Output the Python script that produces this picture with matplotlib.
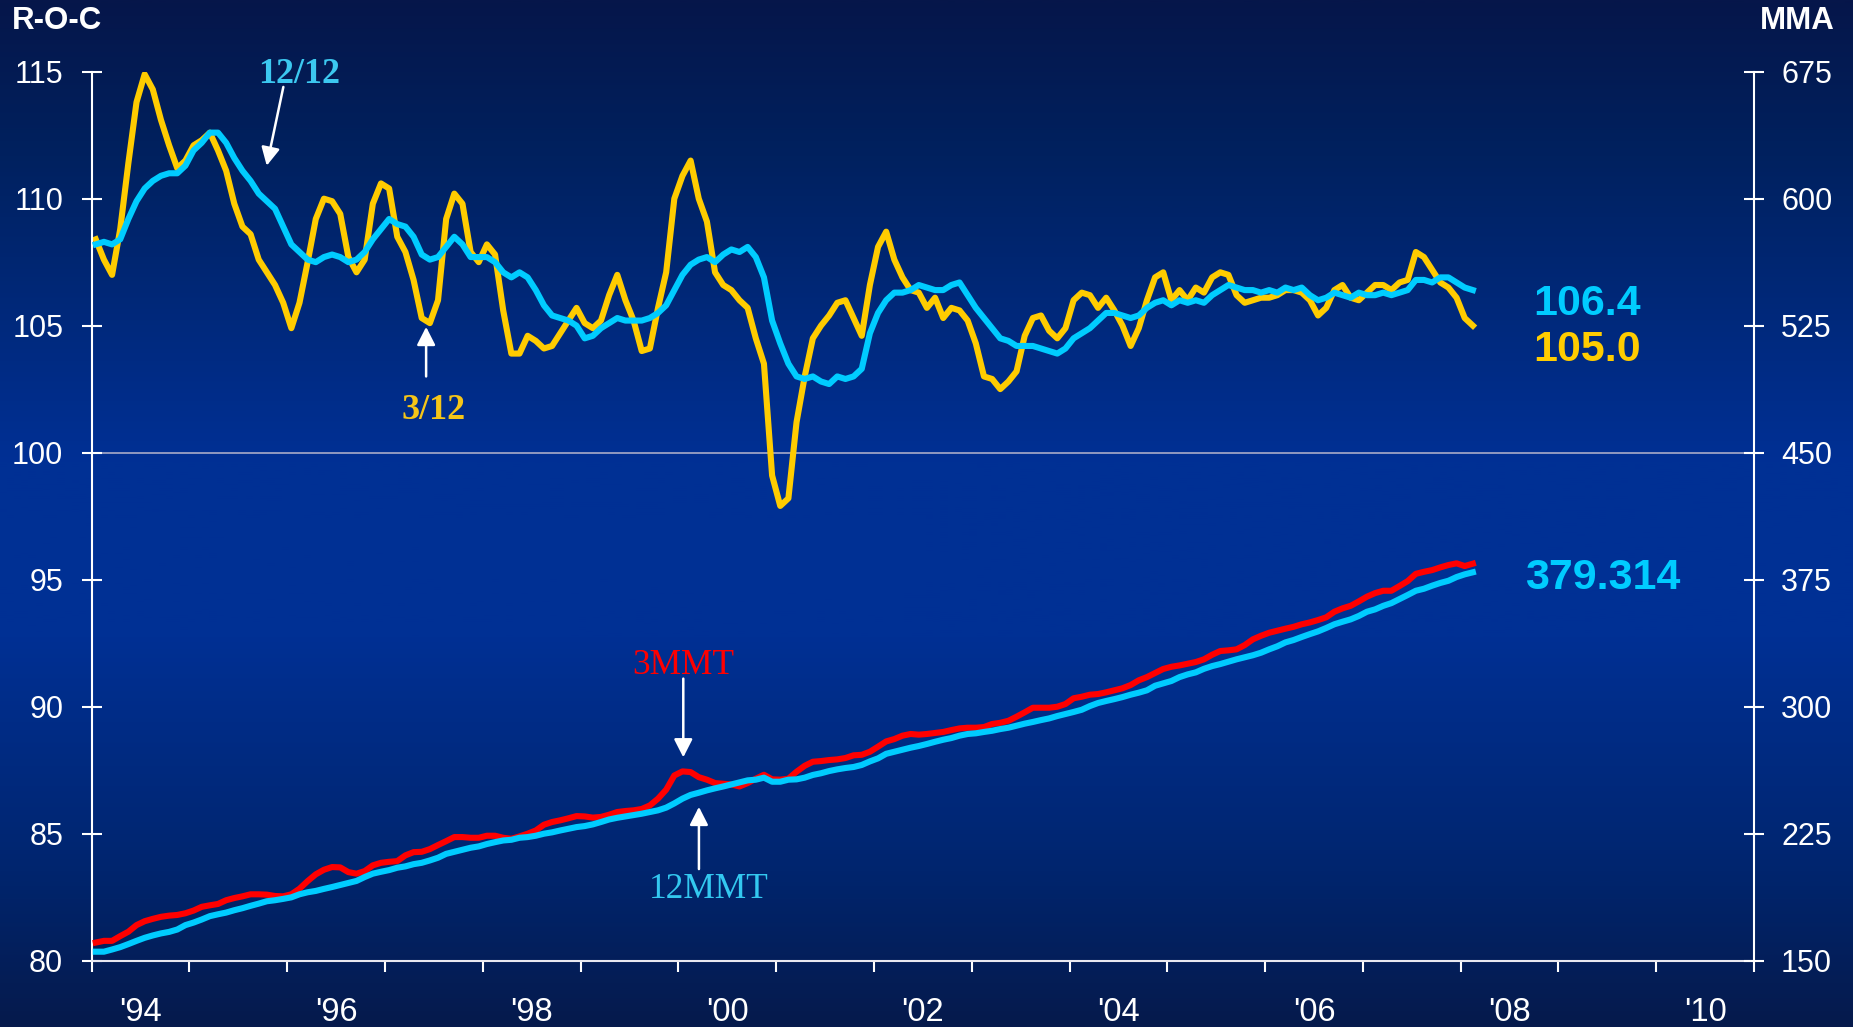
import numpy as np
import matplotlib.pyplot as plt
from matplotlib.colors import LinearSegmentedColormap

plt.rcParams['font.family'] = ['Liberation Sans', 'DejaVu Sans']

# Monthly data, Jan 1994 - Feb 2008
roc_3_12 = [
    108.4, 107.6, 107.0, 108.8, 111.4, 113.8, 114.9, 114.3, 113.1, 112.1,
    111.2, 111.5, 112.1, 112.3, 112.6, 111.9, 111.1, 109.8, 108.9, 108.6,
    107.6, 107.1, 106.6, 105.9, 104.9, 105.9, 107.5, 109.2, 110.0, 109.9,
    109.4, 107.7, 107.1, 107.6, 109.8, 110.6, 110.4, 108.5, 107.9, 106.8,
    105.3, 105.1, 106.0, 109.2, 110.2, 109.8, 107.9, 107.5, 108.2, 107.8,
    105.6, 103.9, 103.9, 104.6, 104.4, 104.1, 104.2, 104.7, 105.2, 105.7,
    105.1, 104.9, 105.2, 106.2, 107.0, 106.0, 105.2, 104.0, 104.1, 105.7,
    107.1, 110.0, 110.9, 111.5, 110.0, 109.1, 107.1, 106.6, 106.4, 106.0,
    105.7, 104.5, 103.5, 99.1, 97.9, 98.2, 101.2, 103.0, 104.5, 105.0,
    105.4, 105.9, 106.0, 105.3, 104.6, 106.6, 108.1, 108.7, 107.6, 106.9,
    106.4, 106.3, 105.7, 106.1, 105.3, 105.7, 105.6, 105.2, 104.3, 103.0,
    102.9, 102.5, 102.8, 103.2, 104.6, 105.3, 105.4, 104.8, 104.5, 104.9,
    106.0, 106.3, 106.2, 105.7, 106.1, 105.6, 105.0, 104.2, 104.9, 106.0,
    106.9, 107.1, 106.0, 106.4, 106.0, 106.5, 106.3, 106.9, 107.1, 107.0,
    106.2, 105.9, 106.0, 106.1, 106.1, 106.2, 106.4, 106.4, 106.3, 106.0,
    105.4, 105.7, 106.4, 106.6, 106.1, 106.0, 106.3, 106.6, 106.6, 106.4,
    106.7, 106.8, 107.9, 107.7, 107.2, 106.7, 106.5, 106.1, 105.3, 105.0,
]
roc_12_12 = [
    108.2, 108.3, 108.2, 108.4, 109.2, 109.9, 110.4, 110.7, 110.9, 111.0,
    111.0, 111.3, 111.9, 112.2, 112.6, 112.6, 112.2, 111.6, 111.1, 110.7,
    110.2, 109.9, 109.6, 108.9, 108.2, 107.9, 107.6, 107.5, 107.7, 107.8,
    107.7, 107.5, 107.6, 107.9, 108.4, 108.8, 109.2, 109.0, 108.9, 108.5,
    107.8, 107.6, 107.7, 108.1, 108.5, 108.2, 107.7, 107.7, 107.7, 107.5,
    107.1, 106.9, 107.1, 106.9, 106.4, 105.8, 105.4, 105.3, 105.2, 105.0,
    104.5, 104.6, 104.9, 105.1, 105.3, 105.2, 105.2, 105.2, 105.3, 105.5,
    105.8, 106.4, 107.0, 107.4, 107.6, 107.7, 107.5, 107.8, 108.0, 107.9,
    108.1, 107.7, 106.9, 105.2, 104.3, 103.5, 103.0, 102.9, 103.0, 102.8,
    102.7, 103.0, 102.9, 103.0, 103.3, 104.7, 105.5, 106.0, 106.3, 106.3,
    106.4, 106.6, 106.5, 106.4, 106.4, 106.6, 106.7, 106.2, 105.7, 105.3,
    104.9, 104.5, 104.4, 104.2, 104.2, 104.2, 104.1, 104.0, 103.9, 104.1,
    104.5, 104.7, 104.9, 105.2, 105.5, 105.5, 105.4, 105.3, 105.4, 105.7,
    105.9, 106.0, 105.8, 106.0, 105.9, 106.0, 105.9, 106.2, 106.4, 106.6,
    106.5, 106.4, 106.4, 106.3, 106.4, 106.3, 106.5, 106.4, 106.5, 106.2,
    106.0, 106.1, 106.3, 106.2, 106.1, 106.3, 106.2, 106.2, 106.3, 106.2,
    106.3, 106.4, 106.8, 106.8, 106.7, 106.9, 106.9, 106.7, 106.5, 106.4,
]
mmt_3 = [
    160.6, 161.6, 161.6, 164.4, 167.0, 170.9, 173.2, 174.6, 175.8, 176.5,
    176.9, 177.9, 179.5, 181.7, 182.6, 183.4, 185.6, 186.9, 187.9, 189.1,
    189.1, 188.9, 188.1, 187.9, 189.1, 192.4, 196.9, 200.9, 203.6, 205.2,
    205.0, 202.2, 201.3, 202.8, 206.2, 207.7, 208.3, 208.7, 212.1, 214.0,
    214.2, 215.8, 218.2, 220.5, 222.9, 222.9, 222.5, 222.5, 223.7, 223.7,
    222.5, 221.9, 223.3, 224.9, 226.8, 230.2, 231.8, 232.8, 234.0, 235.3,
    235.1, 234.4, 234.8, 236.1, 237.7, 238.3, 238.7, 239.5, 241.6, 245.6,
    250.9, 259.3, 261.7, 261.3, 258.3, 256.8, 254.8, 254.4, 254.0, 252.8,
    254.8, 257.4, 259.7, 257.0, 256.8, 257.4, 261.5, 265.0, 267.4, 267.8,
    268.4, 268.8, 269.6, 271.2, 271.5, 273.3, 276.3, 279.4, 280.8, 282.8,
    283.8, 283.4, 283.8, 284.4, 285.0, 286.1, 287.1, 287.5, 287.5, 287.9,
    289.7, 290.4, 291.6, 294.0, 296.6, 299.3, 299.3, 299.3, 299.9, 301.5,
    304.9, 305.8, 307.0, 307.4, 308.4, 309.6, 310.8, 312.7, 315.5, 317.4,
    319.8, 322.2, 323.5, 324.3, 325.3, 326.3, 327.9, 330.6, 332.8, 333.2,
    333.8, 336.3, 339.7, 341.8, 343.6, 344.8, 346.0, 347.1, 348.6, 349.7,
    351.1, 352.7, 356.0, 358.0, 359.5, 362.1, 364.9, 367.0, 368.4, 368.4,
    371.2, 374.1, 378.4, 379.6, 380.6, 382.2, 383.6, 384.6, 383.0, 384.4,
]
mmt_12 = [
    155.2, 155.2, 156.5, 157.9, 159.7, 161.6, 163.4, 164.8, 166.0, 166.9,
    168.3, 170.9, 172.4, 174.2, 176.2, 177.3, 178.3, 179.7, 180.9, 182.3,
    183.6, 185.0, 185.6, 186.4, 187.3, 189.1, 190.3, 191.1, 192.3, 193.4,
    194.6, 195.8, 197.0, 199.3, 201.3, 202.4, 203.4, 204.8, 205.6, 206.9,
    207.7, 209.1, 210.7, 213.0, 214.2, 215.4, 216.6, 217.4, 218.8, 219.9,
    220.9, 221.3, 222.5, 222.9, 223.7, 224.9, 225.7, 226.8, 227.8, 228.8,
    229.4, 230.4, 231.8, 233.3, 234.3, 235.1, 235.9, 236.7, 237.7, 238.7,
    240.3, 242.8, 245.6, 247.8, 249.1, 250.5, 251.7, 252.8, 254.0, 255.2,
    256.4, 256.8, 258.0, 255.6, 255.6, 256.8, 257.0, 258.0, 259.6, 260.6,
    261.9, 262.9, 263.7, 264.3, 265.5, 267.6, 269.4, 272.1, 273.3, 274.5,
    275.7, 276.7, 277.9, 279.2, 280.4, 281.4, 282.8, 283.8, 284.2, 285.0,
    285.7, 286.7, 287.5, 288.7, 289.9, 290.9, 292.0, 293.0, 294.4, 295.6,
    296.8, 298.1, 300.3, 302.1, 303.3, 304.4, 305.6, 307.0, 308.2, 309.6,
    312.3, 313.7, 315.1, 317.4, 319.0, 320.2, 322.3, 323.9, 325.1, 326.5,
    327.9, 329.1, 330.3, 331.8, 333.8, 335.6, 337.9, 339.3, 341.1, 342.8,
    344.4, 346.4, 348.6, 350.1, 351.5, 353.5, 356.0, 357.4, 359.5, 361.1,
    363.5, 365.9, 368.4, 369.6, 371.4, 373.0, 374.3, 376.5, 378.1, 379.3,
]
year_labels = ["'94", "'96", "'98", "'00", "'02", "'04", "'06", "'08", "'10"]
roc_ticks = [80, 85, 90, 95, 100, 105, 110, 115]
mma_ticks = [150, 225, 300, 375, 450, 525, 600, 675]

# mid-month positions in decimal years
t = 1994 + (np.arange(len(roc_3_12)) + 0.5) / 12

W, H = 1853, 1027
fig = plt.figure(figsize=(W / 100, H / 100), dpi=100)

# background gradient
bg = fig.add_axes([0, 0, 1, 1], zorder=0)
cmap = LinearSegmentedColormap.from_list('bg', [
    (0.0, '#06164a'), (0.15, '#00215f'), (0.45, '#003095'),
    (0.62, '#003094'), (0.85, '#00256e'), (1.0, '#061a4c')])
grad = np.linspace(0, 1, 512).reshape(-1, 1)
bg.imshow(grad, aspect='auto', cmap=cmap, extent=[0, 1, 0, 1], origin='upper')
bg.axis('off')

x0, x1, ytop, ybot = 91.7, 1754, 71.7, 960.5
ax = fig.add_axes([x0 / W, 1 - ybot / H, (x1 - x0) / W, (ybot - ytop) / H], zorder=1)
ax.set_facecolor('none')
ax2 = ax.twinx()
ax2.set_facecolor('none')

ax.set_xlim(1994, 2011)
ax.set_ylim(80, 115)
ax2.set_ylim(150, 675)

ax.axhline(100, color='#a9abc9', lw=1.2, zorder=1)
ax.plot(t, roc_3_12, color='#ffcc00', lw=4.4, zorder=2)
ax.plot(t, roc_12_12, color='#00ccff', lw=4.4, zorder=3)
ax2.plot(t, mmt_3, color='#ff0000', lw=4.4, zorder=2)
ax2.plot(t, mmt_12, color='#00ccff', lw=4.4, zorder=3)

# axes styling
for s in ['top', 'right']:
    ax.spines[s].set_visible(False)
for s in ['top', 'left', 'bottom']:
    ax2.spines[s].set_visible(False)
ax.spines['left'].set_color('white')
ax.spines['bottom'].set_color('#e8e8f0')
ax2.spines['right'].set_color('white')
for sp in [ax.spines['left'], ax.spines['bottom'], ax2.spines['right']]:
    sp.set_linewidth(1.5)

ax.set_yticks(roc_ticks)
ax2.set_yticks(mma_ticks)
ax.tick_params(axis='y', direction='inout', length=15, width=1.5, colors='white',
               labelsize=22, pad=13)
ax2.tick_params(axis='y', direction='inout', length=15, width=1.5, colors='white',
                labelsize=22, pad=12)

ax.set_xticks(range(1994, 2012))
ax.tick_params(axis='x', which='major', direction='out', length=8, width=1.5,
               colors='white', labelbottom=False)
ax.set_xticks([1994.5 + 2 * k for k in range(len(year_labels))], minor=True)
ax.set_xticklabels(year_labels, minor=True)
ax.tick_params(axis='x', which='minor', length=0, pad=26, labelsize=23.5,
               labelcolor='white')

# axis titles
fig.text(12 / W, 1 - 21 / H, 'R-O-C', ha='left', va='center', fontsize=22.5,
         fontweight='bold', color='white')
fig.text(1835 / W, 1 - 21 / H, 'MMA', ha='right', va='center', fontsize=22.5,
         fontweight='bold', color='white')

# series labels and arrows
serif = ['Liberation Serif', 'DejaVu Serif']
arrow = dict(arrowstyle='-|>,head_length=0.55,head_width=0.28', color='white',
             lw=1.8, mutation_scale=20, shrinkA=0, shrinkB=0)

ax.text(1996.12, 114.9, '12/12', family=serif, fontsize=26, fontweight='bold',
        color='#3cc8f0', ha='center', va='center')
ax.annotate('', xy=(1995.79, 111.3), xytext=(1995.96, 114.4), arrowprops=arrow)

ax.text(1997.50, 101.65, '3/12', family=serif, fontsize=26, fontweight='bold',
        color='#f5c518', ha='center', va='center')
ax.annotate('', xy=(1997.42, 104.95), xytext=(1997.42, 103.0), arrowprops=arrow)

ax.text(2000.05, 91.6, '3MMT', family=serif, fontsize=25.5, color='#ff0000',
        ha='center', va='center')
ax.annotate('', xy=(2000.05, 88.0), xytext=(2000.05, 91.1), arrowprops=arrow)

ax.text(2000.31, 82.8, '12MMT', family=serif, fontsize=25.5, color='#33c8f0',
        ha='center', va='center')
ax.annotate('', xy=(2000.21, 86.05), xytext=(2000.21, 83.6), arrowprops=arrow)

# latest values
ax.text(2009.29, 105.85, '106.4', fontsize=31, fontweight='bold', color='#00ccff',
        ha='center', va='center')
ax.text(2009.29, 104.05, '105.0', fontsize=31, fontweight='bold', color='#ffcc00',
        ha='center', va='center')
ax.text(2009.45, 95.05, '379.314', fontsize=31, fontweight='bold', color='#00ccff',
        ha='center', va='center')

fig.savefig('out.png', dpi=100)
